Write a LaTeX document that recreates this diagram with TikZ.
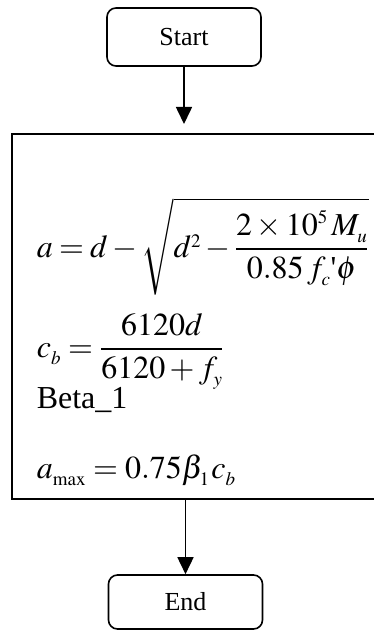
\documentclass[tikz,border=0pt]{standalone}
\usepackage{amsmath}
\usepackage{mathptmx}
\usepackage{fontspec}
\setmainfont{Liberation Serif}
\DeclareMathSizes{32}{32}{19}{14}
\usetikzlibrary{arrows.meta}
\newcommand{\lowsubs}{\fontdimen16\textfont2=7pt \fontdimen17\textfont2=7pt }
\begin{document}
\begin{tikzpicture}[x=1pt,y=-1pt, line width=1.6pt,
  term/.style={draw, rounded corners=9pt, minimum width=154pt, minimum height=58pt, inner sep=0pt, font=\fontsize{26}{30}\selectfont},
  arr/.style={-{Triangle[length=17pt,width=16pt]}, line width=1.6pt},
  eq/.style={anchor=base west, inner sep=0pt, font=\fontsize{32}{38}\selectfont}]
\useasboundingbox (0,0) rectangle (374,631);
\clip (0,0) rectangle (374,631);
\node[term] (start) at (184,37) {Start};
\node[draw, rectangle, minimum width=368pt, minimum height=365pt, inner sep=0pt] (proc) at (196,316.5) {};
\node[term, minimum height=54pt] (end) at (185.5,602) {End};
\coordinate (a1) at (184,124);
\draw[arr] (start.south) -- (a1);
\coordinate (p2) at (proc.south -| end.north);
\draw[arr] (p2) -- (end.north);
\node[eq] (e1) at (36,257) {$\lowsubs\medmuskip=2.5mu plus 1mu minus 1mu \thickmuskip=3.5mu plus 1mu
  a = d - \sqrt{d^2 - \dfrac{2\times 10^5\mkern2mu M_u}{0.85\mkern2mu f_c\text{\textquotesingle}\phi}}$};
\node[eq] (e2) at (36,357) {$\lowsubs c_b = \dfrac{6120d}{6120+f_y}$};
\node[eq] (e3) at (36,408) {Beta\_1};
\node[eq] (e4) at (36,478) {$\lowsubs\thickmuskip=4mu plus 1mu a_{\mathrm{max}} = 0.75\beta_1\mkern1mu c_b$};
\end{tikzpicture}
\end{document}
